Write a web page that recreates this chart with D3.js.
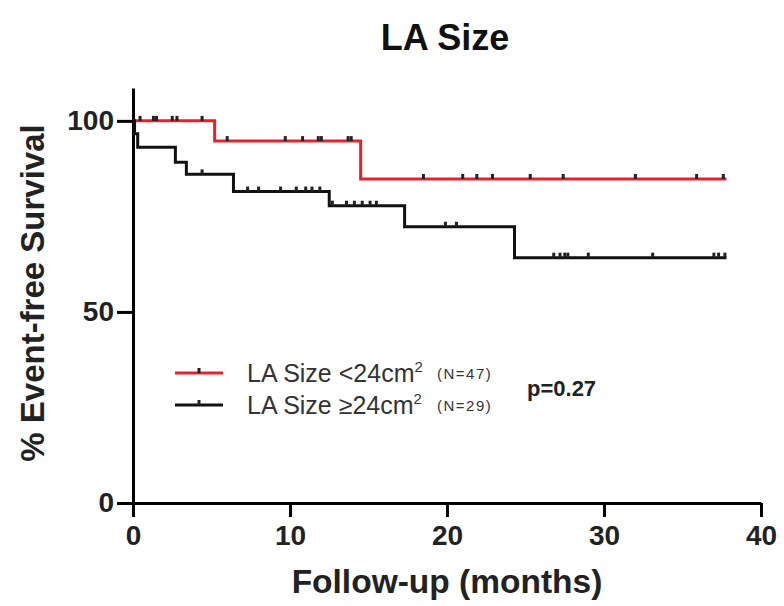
<!DOCTYPE html>
<html>
<head>
<meta charset="utf-8">
<script src="https://cdn.jsdelivr.net/npm/d3@7"></script>
<style>
    body { margin: 0; background: #fff; }
    text { font-family: "Liberation Sans", Arial, sans-serif; }
</style>
</head>
<body>
<div id="chartDiv"></div>
<script>
const chartWidth = 784;
const chartHeight = 606;

// x / y ticks
var xTicks = [0, 10, 20, 30, 40]
var yTicks = [0, 50, 100]

// LA Size <24cm2 (N=47)
var redEventTimes = [5.2, 14.5]
var redSurvival = [94.7, 84.8]
var redEndTime = 37.8
var redCensorTimes = [0.45, 1.3, 1.5, 2.5, 2.8, 4.4, 6.0, 9.7, 10.8, 11.8, 12.0, 13.7, 13.9, 18.5, 21.0, 21.9, 22.9, 25.3, 27.4, 32.0, 35.9, 37.6]

// LA Size >=24cm2 (N=29)
var blackEventTimes = [0.1, 0.3, 2.7, 3.4, 6.4, 12.5, 17.3, 24.3]
var blackSurvival = [96.6, 93.1, 89.2, 86.0, 81.5, 77.8, 72.3, 64.2]
var blackEndTime = 37.8
var blackCensorTimes = [4.4, 7.3, 8.0, 9.4, 10.4, 11.0, 11.4, 11.9, 12.7, 13.6, 14.1, 14.6, 15.1, 15.5, 19.9, 20.6, 26.8, 27.2, 27.5, 27.7, 29.0, 33.1, 37.0, 37.3, 37.7]

var groups = [
    {name: "LA Size <24cm", n: "(N=47)", color: "#e8202a", events: redEventTimes, surv: redSurvival, end: redEndTime, censor: redCensorTimes},
    {name: "LA Size \u226524cm", n: "(N=29)", color: "#111", events: blackEventTimes, surv: blackSurvival, end: blackEndTime, censor: blackCensorTimes}
]

var svg = d3.select("#chartDiv").append("svg")
    .attr("width", chartWidth)
    .attr("height", chartHeight);

var x = d3.scaleLinear().domain([0, 40]).range([133, 761]);
var y = d3.scaleLinear().domain([0, 108.6]).range([503, 88]);

function survAt(g, t) {
    var s = 100
    g.events.forEach((e, i) => {
        if (e <= t) s = g.surv[i]
    })
    return s
}

function stepPoints(g) {
    var pts = [[0, 100]]
    g.events.forEach((e, i) => pts.push([e, g.surv[i]]))
    pts.push([g.end, g.surv[g.surv.length - 1]])
    return pts
}

var line = d3.line()
    .x(d => x(d[0]))
    .y(d => y(d[1]))
    .curve(d3.curveStepAfter);

// axes
var xAxis = svg.append("g")
    .attr("transform", "translate(0," + y(0) + ")")
    .call(d3.axisBottom(x).tickValues(xTicks).tickSize(14).tickSizeOuter(0).tickPadding(8));
var yAxis = svg.append("g")
    .attr("transform", "translate(" + x(0) + ",0)")
    .call(d3.axisLeft(y).tickValues(yTicks).tickSize(16).tickSizeOuter(0).tickPadding(3));

[xAxis, yAxis].forEach(a => {
    a.selectAll("path, line").style("stroke", "#000").style("stroke-width", 3)
    a.selectAll("text")
        .style("font-size", "28px")
        .style("font-weight", "bold")
        .style("fill", "#222")
})

// curves
groups.forEach(g => {
    svg.append("path")
        .datum(stepPoints(g))
        .attr("d", line)
        .style("fill", "none")
        .style("stroke", g.color)
        .style("stroke-width", 3);

    svg.selectAll(null)
        .data(g.censor)
        .enter()
        .append("line")
        .attr("x1", d => x(d))
        .attr("x2", d => x(d))
        .attr("y1", d => y(survAt(g, d)))
        .attr("y2", d => y(survAt(g, d)) - 5)
        .style("stroke", "#222")
        .style("stroke-width", 3);
})

// title
svg.append("text")
    .attr("x", 445)
    .attr("y", 50)
    .attr("text-anchor", "middle")
    .style("font-size", "36px")
    .style("font-weight", "bold")
    .style("fill", "#111")
    .text("LA Size")

svg.append("text")
    .attr("x", 447)
    .attr("y", 593)
    .attr("text-anchor", "middle")
    .style("font-size", "33.5px")
    .style("font-weight", "bold")
    .style("fill", "#222")
    .text("Follow-up (months)")

svg.append("text")
    .attr("transform", "translate(44,293) rotate(-90)")
    .attr("text-anchor", "middle")
    .style("font-size", "33px")
    .style("font-weight", "bold")
    .style("fill", "#222")
    .text("% Event-free Survival")

// legend
var legendX = 175
var legendY = 373
groups.forEach((g, i) => {
    var ly = legendY + i * 32
    svg.append("line")
        .attr("x1", legendX)
        .attr("x2", legendX + 48)
        .attr("y1", ly)
        .attr("y2", ly)
        .style("stroke", g.color)
        .style("stroke-width", 3)
    svg.append("line")
        .attr("x1", legendX + 24)
        .attr("x2", legendX + 24)
        .attr("y1", ly)
        .attr("y2", ly - 5)
        .style("stroke", "#222")
        .style("stroke-width", 3)
    var t = svg.append("text")
        .attr("x", 247)
        .attr("y", ly + 9)
        .style("font-size", "25px")
        .style("fill", "#333")
    t.append("tspan").text(g.name)
    t.append("tspan")
        .attr("dy", -10)
        .style("font-size", "15px")
        .text("2")
    svg.append("text")
        .attr("x", 437)
        .attr("y", ly + 6)
        .style("font-size", "15px")
        .style("letter-spacing", "1.5px")
        .style("fill", "#333")
        .text(g.n)
})

svg.append("text")
    .attr("x", 527)
    .attr("y", 396)
    .style("font-size", "22px")
    .style("font-weight", "bold")
    .style("fill", "#222")
    .text("p=0.27")
</script>
</body>
</html>
